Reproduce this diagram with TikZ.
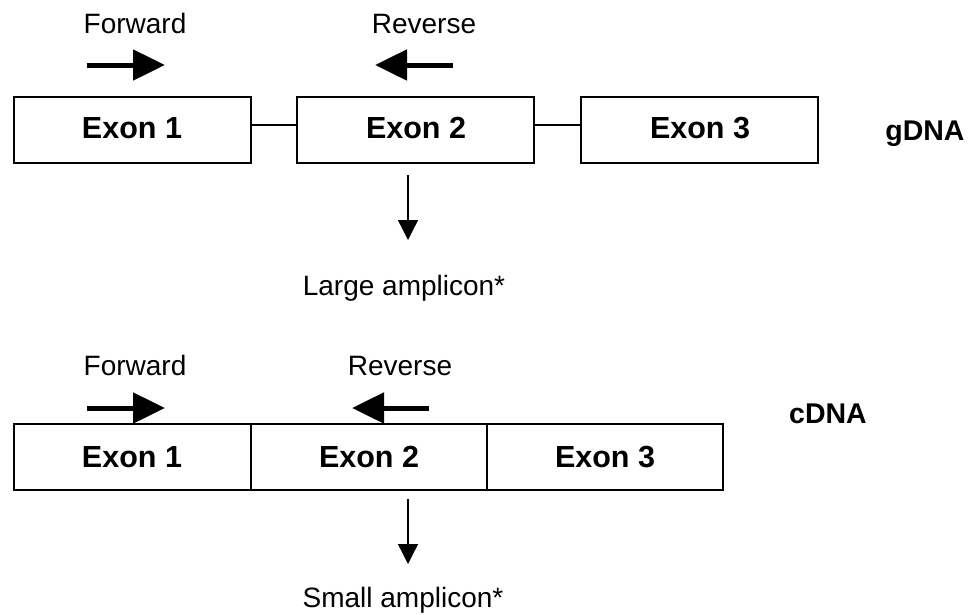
\documentclass[tikz,border=0pt]{standalone}
\usepackage{fontspec}
\setmainfont{Liberation Sans}
\usetikzlibrary{arrows.meta}
\begin{document}
\begin{tikzpicture}[x=1pt,y=-1pt,
  exonbox/.style={draw,line width=1.3pt,minimum height=66pt,inner sep=0pt,font=\fontsize{30.5}{36}\selectfont\bfseries},
  lbl/.style={inner sep=0pt,anchor=base,font=\fontsize{28}{33}\selectfont},
  dnalbl/.style={inner sep=0pt,anchor=base,font=\fontsize{28.5}{33}\selectfont\bfseries},
  primer/.style={line width=5pt,-{Triangle[length=32pt,width=30pt]}},
  result/.style={line width=1.3pt,-{Triangle[length=20pt,width=20pt]}},
  link/.style={line width=1.3pt}]
\useasboundingbox (0,0) rectangle (970,614);
% gDNA
\node[exonbox,minimum width=237pt] (g1) at (132.5,130) {};
\node[exonbox,minimum width=237pt] (g2) at (415.5,130) {};
\node[exonbox,minimum width=237pt] (g3) at (699.5,130) {};
\node[lbl,font=\fontsize{30.5}{36}\selectfont\bfseries] (g1t) at (132,138) {Exon 1};
\node[lbl,font=\fontsize{30.5}{36}\selectfont\bfseries] (g2t) at (416,138) {Exon 2};
\node[lbl,font=\fontsize{30.5}{36}\selectfont\bfseries] (g3t) at (700,138) {Exon 3};
\draw[link] ([yshift=5pt]g1.east) -- ([yshift=5pt]g2.west);
\draw[link] ([yshift=5pt]g2.east) -- ([yshift=5pt]g3.west);
\node[dnalbl] (gdna) at (925,140) {gDNA};
\node[lbl] (gfw) at (135,33) {Forward};
\node[lbl] (grv) at (424,33) {Reverse};
\coordinate (gfa) at (87,65); \coordinate (gfb) at (165,65);
\coordinate (gra) at (453,65); \coordinate (grb) at (375,65);
\draw[primer] (gfa) -- (gfb);
\draw[primer] (gra) -- (grb);
\coordinate (gda) at (408,175); \coordinate (gdb) at (408,240);
\draw[result] (gda) -- (gdb);
\node[lbl] (large) at (404,295) {Large amplicon*};
% cDNA
\node[exonbox,minimum width=237pt] (c1) at (132.5,457) {};
\node[exonbox,minimum width=236pt] (c2) at (369,457) {};
\node[exonbox,minimum width=236pt] (c3) at (605,457) {};
\node[lbl,font=\fontsize{30.5}{36}\selectfont\bfseries] (c1t) at (132,467) {Exon 1};
\node[lbl,font=\fontsize{30.5}{36}\selectfont\bfseries] (c2t) at (369,467) {Exon 2};
\node[lbl,font=\fontsize{30.5}{36}\selectfont\bfseries] (c3t) at (605,467) {Exon 3};
\node[dnalbl] (cdna) at (828,423) {cDNA};
\node[lbl] (cfw) at (135,375) {Forward};
\node[lbl] (crv) at (400,375) {Reverse};
\coordinate (cfa) at (87,408); \coordinate (cfb) at (165,408);
\coordinate (cra) at (429,408); \coordinate (crb) at (352,408);
\draw[primer] (cfa) -- (cfb);
\draw[primer] (cra) -- (crb);
\coordinate (cda) at (408,499); \coordinate (cdb) at (408,564);
\draw[result] (cda) -- (cdb);
\node[lbl] (small) at (403,607) {Small amplicon*};
\end{tikzpicture}
\end{document}
